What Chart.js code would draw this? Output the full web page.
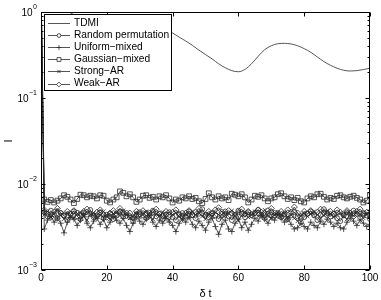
<!DOCTYPE html>
<html><head><meta charset="utf-8">
<script src="https://cdn.jsdelivr.net/npm/chart.js@4/dist/chart.umd.min.js"></script>
<style>html,body{margin:0;padding:0;background:#fff}#wrap{width:381px;height:300px;position:relative}</style>
</head><body><div id="wrap"><canvas id="c"></canvas></div>
<script>
// ---- data ----
const lags = [0,1,2,3,4,5,6,7,8,9,10,11,12,13,14,15,16,17,18,19,20,21,22,23,24,25,26,27,28,29,30,31,32,33,34,35,36,37,38,39,40,41,42,43,44,45,46,47,48,49,50,51,52,53,54,55,56,57,58,59,60,61,62,63,64,65,66,67,68,69,70,71,72,73,74,75,76,77,78,79,80,81,82,83,84,85,86,87,88,89,90,91,92,93,94,95,96,97,98,99,100];
const tdmiLags = [0,2,4,6,8,10,12,14,16,18,20,22,24,26,28,30,32,34,36,38,40,42,44,46,48,50,52,54,56,58,60,62,64,66,68,70,72,74,76,78,80,82,84,86,88,90,92,94,96,98,100];
const tdmi = [4.0,2.6,1.8,1.35,1.05,0.93,0.85,0.80,0.76,0.73,0.71,0.70,0.69,0.69,0.68,0.68,0.67,0.66,0.64,0.62,0.57,0.51,0.46,0.41,0.36,0.32,0.285,0.25,0.225,0.208,0.202,0.215,0.25,0.305,0.365,0.405,0.428,0.432,0.425,0.405,0.375,0.34,0.30,0.265,0.24,0.222,0.21,0.206,0.208,0.214,0.222];
const randomPermutation = [2.0,
 0.0047,0.0042,0.0049,0.0044,0.0040,0.0046,0.0043,0.0038,0.0045,0.0048,
 0.0042,0.0039,0.0046,0.0044,0.0050,0.0041,0.0043,0.0047,0.0040,0.0044,
 0.0045,0.0039,0.0043,0.0048,0.0042,0.0046,0.0041,0.0037,0.0044,0.0047,
 0.0043,0.0040,0.0046,0.0049,0.0042,0.0045,0.0039,0.0044,0.0047,0.0041,
 0.0038,0.0044,0.0046,0.0042,0.0048,0.0043,0.0040,0.0045,0.0051,0.0044,
 0.0041,0.0046,0.0043,0.0039,0.0045,0.0048,0.0042,0.0038,0.0044,0.0049,
 0.0045,0.0041,0.0047,0.0043,0.0046,0.0050,0.0044,0.0040,0.0045,0.0047,
 0.0043,0.0046,0.0041,0.0044,0.0039,0.0043,0.0047,0.0042,0.0036,0.0041,
 0.0045,0.0048,0.0043,0.0038,0.0044,0.0051,0.0046,0.0042,0.0045,0.0040,
 0.0037,0.0043,0.0047,0.0044,0.0049,0.0045,0.0041,0.0046,0.0043,0.0039];
const uniformMixed = [2.0,
 0.0030,0.0038,0.0042,0.0036,0.0040,0.0035,0.0027,0.0036,0.0041,0.0039,
 0.0033,0.0038,0.0044,0.0035,0.0031,0.0037,0.0040,0.0034,0.0039,0.0031,
 0.0036,0.0042,0.0038,0.0035,0.0040,0.0033,0.0028,0.0035,0.0041,0.0037,
 0.0034,0.0039,0.0043,0.0036,0.0032,0.0038,0.0035,0.0040,0.0036,0.0033,
 0.0028,0.0035,0.0039,0.0036,0.0041,0.0034,0.0031,0.0037,0.0033,0.0029,
 0.0036,0.0040,0.0032,0.0026,0.0034,0.0038,0.0030,0.0028,0.0035,0.0039,
 0.0031,0.0036,0.0029,0.0034,0.0040,0.0037,0.0043,0.0039,0.0035,0.0041,
 0.0038,0.0044,0.0040,0.0036,0.0039,0.0034,0.0030,0.0031,0.0035,0.0032,
 0.0030,0.0036,0.0033,0.0031,0.0037,0.0034,0.0039,0.0036,0.0032,0.0035,
 0.0031,0.0030,0.0036,0.0040,0.0037,0.0033,0.0038,0.0035,0.0032,0.0034];
const gaussianMixed = [2.0,
 0.0066,0.0062,0.0065,0.0061,0.0064,0.0068,0.0074,0.0071,0.0066,0.0060,
 0.0067,0.0075,0.0074,0.0070,0.0073,0.0072,0.0068,0.0074,0.0073,0.0064,
 0.0061,0.0066,0.0070,0.0082,0.0079,0.0072,0.0076,0.0070,0.0062,0.0066,
 0.0073,0.0074,0.0069,0.0071,0.0066,0.0072,0.0070,0.0074,0.0068,0.0061,
 0.0066,0.0064,0.0070,0.0068,0.0072,0.0067,0.0069,0.0063,0.0060,0.0067,
 0.0078,0.0070,0.0066,0.0072,0.0068,0.0070,0.0065,0.0077,0.0075,0.0072,
 0.0076,0.0070,0.0061,0.0066,0.0073,0.0071,0.0074,0.0068,0.0063,0.0068,
 0.0070,0.0076,0.0078,0.0072,0.0067,0.0070,0.0065,0.0069,0.0063,0.0061,
 0.0068,0.0072,0.0070,0.0076,0.0077,0.0071,0.0066,0.0069,0.0067,0.0073,
 0.0074,0.0070,0.0068,0.0071,0.0073,0.0069,0.0066,0.0061,0.0064,0.0074];
const strongAR = [2.0,
 0.0044,0.0048,0.0041,0.0045,0.0050,0.0043,0.0039,0.0046,0.0042,0.0040,
 0.0045,0.0047,0.0042,0.0038,0.0044,0.0046,0.0041,0.0043,0.0048,0.0042,
 0.0039,0.0045,0.0047,0.0043,0.0049,0.0044,0.0040,0.0042,0.0046,0.0041,
 0.0044,0.0048,0.0042,0.0039,0.0045,0.0043,0.0047,0.0041,0.0038,0.0044,
 0.0046,0.0042,0.0039,0.0045,0.0041,0.0048,0.0044,0.0046,0.0042,0.0039,
 0.0045,0.0042,0.0047,0.0044,0.0040,0.0043,0.0046,0.0049,0.0042,0.0038,
 0.0043,0.0047,0.0041,0.0044,0.0048,0.0042,0.0045,0.0050,0.0043,0.0040,
 0.0044,0.0047,0.0043,0.0046,0.0041,0.0044,0.0040,0.0037,0.0043,0.0046,
 0.0042,0.0045,0.0048,0.0044,0.0040,0.0043,0.0049,0.0045,0.0041,0.0044,
 0.0046,0.0042,0.0039,0.0045,0.0043,0.0047,0.0044,0.0040,0.0045,0.0048];
const weakAR = [2.0,
 0.0050,0.0045,0.0041,0.0047,0.0052,0.0046,0.0043,0.0048,0.0044,0.0049,
 0.0046,0.0042,0.0048,0.0051,0.0045,0.0043,0.0047,0.0050,0.0044,0.0041,
 0.0046,0.0049,0.0045,0.0052,0.0047,0.0043,0.0046,0.0041,0.0048,0.0045,
 0.0049,0.0046,0.0043,0.0047,0.0051,0.0045,0.0042,0.0048,0.0044,0.0047,
 0.0050,0.0045,0.0041,0.0046,0.0049,0.0044,0.0047,0.0052,0.0046,0.0043,
 0.0048,0.0045,0.0050,0.0053,0.0047,0.0044,0.0049,0.0046,0.0042,0.0047,
 0.0051,0.0045,0.0048,0.0044,0.0046,0.0050,0.0047,0.0043,0.0049,0.0052,
 0.0046,0.0043,0.0048,0.0045,0.0050,0.0047,0.0054,0.0046,0.0042,0.0048,
 0.0045,0.0049,0.0044,0.0047,0.0051,0.0046,0.0043,0.0048,0.0045,0.0050,
 0.0047,0.0044,0.0049,0.0046,0.0042,0.0048,0.0051,0.0045,0.0047,0.0044];
const seriesLabels = ['TDMI','Random permutation','Uniform\u2212mixed','Gaussian\u2212mixed','Strong\u2212AR','Weak\u2212AR'];
const xTicks = [0,20,40,60,80,100];
const yExponents = [-3,-2,-1,0];
const xTitle = '\u03b4 t';
const yTitle = 'I';

// ---- build ----
const LINE = '#2a2a2a';
const FONT = '"Liberation Sans", Arial, Helvetica, sans-serif';
function pts(xs, ys){ return xs.map((v,i)=>({x:v,y:ys[i]})); }
function surrogate(label, ys, style, r){
  return {label, data:pts(lags, ys), borderColor:LINE, borderWidth:0.8, pointStyle:style,
    pointRadius:r, pointBorderColor:LINE, pointBackgroundColor:'rgba(0,0,0,0)', pointBorderWidth:0.8, fill:false};
}
const datasets = [
  {label:seriesLabels[0], data:pts(tdmiLags, tdmi), borderColor:'#444', borderWidth:0.9, pointRadius:0, cubicInterpolationMode:'monotone', fill:false},
  surrogate(seriesLabels[1], randomPermutation, 'circle', 2.4),
  surrogate(seriesLabels[2], uniformMixed, 'cross', 3),
  surrogate(seriesLabels[3], gaussianMixed, 'rect', 3.4),
  surrogate(seriesLabels[4], strongAR, 'crossRot', 2.8),
  surrogate(seriesLabels[5], weakAR, 'rectRot', 3)
];

const axesPlugin = {
  id:'matlabAxes',
  afterDatasetsDraw(chart){
    const {ctx, chartArea:a, scales:{x,y}} = chart;
    const L=Math.round(a.left)+0.5, R=Math.round(a.right)-0.5, T=Math.round(a.top)+0.5, B=Math.round(a.bottom)-0.5;
    ctx.save();
    ctx.strokeStyle='#000'; ctx.lineWidth=1;
    ctx.strokeRect(L,T,R-L,B-T);
    ctx.beginPath();
    xTicks.forEach(v=>{
      const px=Math.round(x.getPixelForValue(v))+0.5;
      ctx.moveTo(px,B); ctx.lineTo(px,B-4);
      ctx.moveTo(px,T); ctx.lineTo(px,T+4);
    });
    yExponents.forEach(e=>{
      for(let m=1;m<=9;m++){
        if(e===0 && m>1) break;
        const py=Math.round(y.getPixelForValue(m*Math.pow(10,e)))+0.5;
        const len = m===1?4:2;
        ctx.moveTo(L,py); ctx.lineTo(L+len,py);
        ctx.moveTo(R,py); ctx.lineTo(R-len,py);
      }
    });
    ctx.stroke();
    ctx.fillStyle='#000';
    ctx.font='10px '+FONT;
    ctx.textAlign='center'; ctx.textBaseline='top';
    xTicks.forEach(v=>{ ctx.fillText(String(v), x.getPixelForValue(v), a.bottom+3); });
    yExponents.forEach(e=>{
      const py=y.getPixelForValue(Math.pow(10,e));
      const sup = e===0?'0':'\u2212'+String(-e);
      ctx.font='7px '+FONT;
      const sw=ctx.measureText(sup).width;
      ctx.textAlign='right'; ctx.textBaseline='middle';
      ctx.fillText(sup, a.left-4, py-5);
      ctx.font='10px '+FONT;
      ctx.fillText('10', a.left-4-sw-0.5, py+1);
    });
    ctx.font='11px '+FONT;
    ctx.textAlign='center'; ctx.textBaseline='middle';
    ctx.fillText(xTitle, (a.left+a.right)/2, 294);
    ctx.translate(9,(a.top+a.bottom)/2);
    ctx.rotate(-Math.PI/2);
    ctx.fillText(yTitle,0,0);
    ctx.restore();
  },
  afterDraw(chart){
    const {ctx} = chart;
    ctx.save();
    const bx=44.5, by=14.5, bw=127, bh=76;
    ctx.fillStyle='#fff'; ctx.fillRect(bx,by,bw,bh);
    ctx.strokeStyle='#000'; ctx.lineWidth=1; ctx.strokeRect(bx,by,bw,bh);
    ctx.font='10.2px '+FONT; ctx.textAlign='left'; ctx.textBaseline='middle';
    chart.data.datasets.forEach((ds,i)=>{
      const cy=23+i*12.1;
      ctx.strokeStyle=ds.borderColor; ctx.lineWidth=ds.borderWidth;
      ctx.beginPath(); ctx.moveTo(48,Math.round(cy)+0.5); ctx.lineTo(70,Math.round(cy)+0.5); ctx.stroke();
      if(ds.pointRadius>0){
        ctx.fillStyle='#fff';
        ctx.strokeStyle=ds.pointBorderColor;
        Chart.helpers.drawPoint(ctx,{pointStyle:ds.pointStyle, radius:ds.pointRadius*0.8, borderWidth:ds.pointBorderWidth, rotation:0}, 59, Math.round(cy)+0.5);
      }
      ctx.fillStyle='#000';
      ctx.fillText(ds.label, 74, cy);
    });
    ctx.restore();
  }
};

new Chart(document.getElementById('c'), {
  type:'line',
  data:{datasets},
  options:{
    responsive:true, maintainAspectRatio:false, animation:false, events:[],
    layout:{padding:{left:41,right:11,top:12,bottom:30}},
    scales:{
      x:{type:'linear', min:0, max:100, display:false},
      y:{type:'logarithmic', min:0.001, max:1, display:false}
    },
    plugins:{legend:{display:false}, tooltip:{enabled:false}}
  },
  plugins:[axesPlugin]
});
</script></body></html>
